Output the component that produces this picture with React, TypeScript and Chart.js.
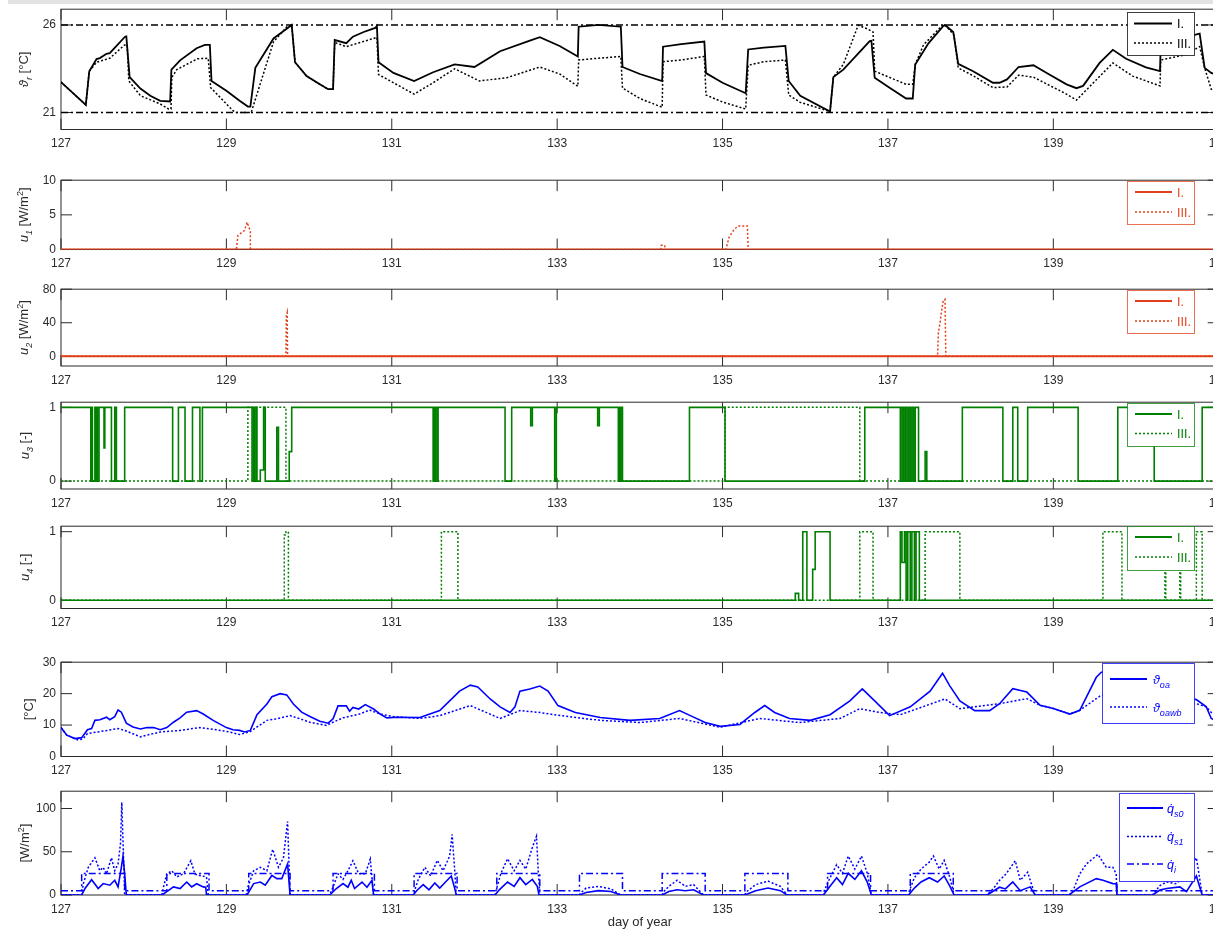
import React, { useEffect, useRef } from 'react';
import { Chart, registerables } from 'chart.js';

Chart.register(...registerables);

type Pt = [number, number];

// ---------- axis ----------
const X_MIN = 127;
const X_MAX = 141;
const dayTicks = [127, 129, 131, 133, 135, 137, 139, 141];

// ---------- panel 1: room temperature ----------
const thetaR_I: Pt[] = [
  [127.0, 22.74], [127.3, 21.43], [127.342, 23.36], [127.43, 24.05], [127.47, 24.11], [127.55, 24.35], [127.59, 24.39], [127.774, 25.33], [127.79, 25.35],
  [127.83, 23.02], [127.96, 22.37], [128.08, 21.96], [128.2, 21.67], [128.32, 21.63], [128.335, 23.45], [128.44, 23.98], [128.64, 24.67], [128.74, 24.86], [128.8, 24.86],
  [128.82, 22.8], [129.0, 22.24], [129.16, 21.67], [129.26, 21.34], [129.29, 21.34], [129.35, 23.55], [129.57, 25.23], [129.77, 25.93], [129.79, 26.0],
  [129.83, 23.87], [129.97, 23.08], [130.13, 22.61], [130.23, 22.33], [130.29, 22.33], [130.31, 25.14], [130.45, 24.96], [130.53, 25.33], [130.66, 25.6], [130.8, 25.83], [130.82, 25.95],
  [130.84, 23.87], [131.02, 23.26], [131.27, 22.8], [131.5, 23.3], [131.76, 23.75], [132.0, 23.6], [132.31, 24.5], [132.67, 25.1], [132.79, 25.3], [133.03, 24.8],
  [133.25, 24.2], [133.26, 25.9], [133.5, 26.0], [133.77, 25.9], [133.79, 23.6], [134.0, 23.2], [134.27, 22.8], [134.28, 24.76], [134.5, 24.9], [134.78, 25.05],
  [134.8, 23.25], [135.0, 22.7], [135.28, 22.1], [135.31, 24.6], [135.5, 24.7], [135.76, 24.8], [135.8, 22.8], [135.94, 21.96], [136.3, 21.06], [136.34, 23.02], [136.46, 23.45], [136.78, 25.08], [136.8, 25.1],
  [136.84, 22.98], [137.02, 22.42], [137.22, 21.8], [137.3, 21.8], [137.33, 23.74], [137.49, 24.95], [137.67, 25.94], [137.69, 26.0], [137.79, 25.6], [137.85, 23.78],
  [138.03, 23.36], [138.27, 22.7], [138.35, 22.7], [138.44, 22.89], [138.58, 23.6], [138.76, 23.7], [138.92, 23.26], [139.16, 22.61], [139.28, 22.39], [139.36, 22.52], [139.56, 23.83], [139.72, 24.58],
  [139.88, 24.07], [140.12, 23.58], [140.29, 23.36], [140.3, 25.0], [140.6, 25.3], [140.77, 25.51], [140.83, 23.55], [140.91, 23.26], [141.0, 23.1],
];
const thetaR_III: Pt[] = [
  [127.0, 22.74], [127.3, 21.43], [127.342, 23.36], [127.43, 23.87], [127.59, 24.1], [127.77, 24.86], [127.8, 24.86], [127.82, 22.8], [127.96, 21.96], [128.2, 21.49], [128.3, 21.2], [128.33, 21.2],
  [128.34, 23.0], [128.4, 23.45], [128.65, 24.07], [128.78, 24.1], [128.81, 22.42], [129.08, 21.1], [129.12, 21.0], [129.3, 21.0], [129.57, 25.04], [129.73, 25.89], [129.79, 26.0],
  [129.83, 23.87], [129.97, 23.08], [130.13, 22.61], [130.23, 22.33], [130.29, 22.33], [130.31, 25.0], [130.45, 24.76], [130.78, 25.23], [130.82, 25.3], [130.84, 23.17], [131.27, 22.05],
  [131.5, 22.7], [131.76, 23.5], [132.06, 22.8], [132.4, 23.0], [132.79, 23.6], [133.03, 23.2], [133.25, 22.5], [133.26, 24.0], [133.5, 24.1], [133.77, 24.2],
  [133.79, 22.4], [134.0, 21.8], [134.27, 21.3], [134.28, 23.9], [134.5, 24.0], [134.78, 24.2], [134.8, 22.0], [135.0, 21.6], [135.28, 21.2], [135.31, 23.7], [135.5, 23.9], [135.76, 24.0], [135.8, 22.0],
  [135.94, 21.58], [136.3, 21.06], [136.34, 23.02], [136.46, 23.74], [136.64, 25.98], [136.74, 25.8], [136.82, 25.6], [136.84, 23.36], [137.22, 22.61], [137.3, 22.61], [137.33, 23.74], [137.43, 24.86],
  [137.65, 25.94], [137.69, 26.0], [137.8, 25.42], [137.85, 23.55], [138.03, 23.1], [138.27, 22.42], [138.44, 22.46], [138.58, 23.13], [138.76, 23.02], [139.16, 22.05], [139.28, 21.71], [139.72, 23.83],
  [139.96, 23.08], [140.29, 22.52], [140.3, 24.0], [140.6, 24.3], [140.77, 24.76], [140.83, 23.55], [140.91, 22.33], [141.0, 22.0],
];
const comfortLow: Pt[] = [[127, 21], [141, 21]];
const comfortHigh: Pt[] = [[127, 26], [141, 26]];

// ---------- panel 2/3: u1, u2 ----------
const u1_I: Pt[] = [[127, 0], [141, 0]];
const u1_III: Pt[] = [
  [127, 0], [129.12, 0], [129.14, 2.04], [129.22, 2.75], [129.25, 3.93], [129.28, 2.98], [129.29, 2.8], [129.29, 0], [134.25, 0], [134.26, 0.6], [134.3, 0.6], [134.31, 0],
  [135.04, 0], [135.08, 1.8], [135.14, 2.9], [135.19, 3.4], [135.3, 3.4], [135.31, 0], [141, 0],
];
const u2_I: Pt[] = [[127, 0], [141, 0]];
const u2_III: Pt[] = [
  [127, 0], [129.72, 0], [129.725, 48], [129.735, 52], [129.74, 0], [137.6, 0], [137.61, 28], [137.63, 40], [137.65, 55], [137.67, 67], [137.69, 68], [137.7, 0], [141, 0],
];

// ---------- panel 4/5: u3, u4 (each value is held until the next point) ----------
const u3_I: Pt[] = [
  [127, 1], [127.36, 0], [127.37, 1], [127.38, 0], [127.41, 1], [127.42, 0], [127.43, 1], [127.44, 0], [127.46, 1], [127.52, 0.45], [127.53, 1], [127.61, 0], [127.65, 1], [127.67, 0],
  [127.77, 1], [128.35, 0], [128.42, 1], [128.5, 0], [128.59, 1], [128.68, 0], [128.71, 1], [129.31, 0], [129.33, 1], [129.34, 0], [129.36, 1], [129.37, 0], [129.41, 0.15], [129.45, 1],
  [129.47, 0], [129.61, 0.73], [129.63, 0], [129.76, 0.4], [129.79, 1], [131.5, 0], [131.51, 1], [131.52, 0], [131.53, 1], [131.55, 0], [131.56, 1], [132.37, 0], [132.45, 1], [132.68, 0.75],
  [132.7, 1], [132.97, 0], [132.99, 1], [133.49, 0.75], [133.51, 1], [133.74, 0], [133.75, 1], [133.76, 0], [133.77, 1], [133.79, 0], [134.6, 1], [135.03, 0], [136.72, 1], [137.15, 0],
  [137.17, 1], [137.19, 0], [137.21, 1], [137.23, 0], [137.25, 1], [137.27, 0], [137.29, 1], [137.31, 0], [137.33, 1], [137.37, 0], [137.45, 0.4], [137.47, 0], [137.9, 1], [138.39, 0],
  [138.51, 1], [138.57, 0], [138.69, 1], [139.3, 0], [139.78, 1], [140.22, 0], [140.8, 1], [141, 1],
];
const u3_III: Pt[] = [[127, 0], [129.26, 1], [129.72, 0], [135.03, 1], [136.66, 0], [141, 0]];
const u4_I: Pt[] = [
  [127, 0], [135.88, 0.1], [135.92, 0], [135.97, 1], [136.02, 0], [136.09, 0.45], [136.12, 1], [136.3, 0], [137.15, 1], [137.17, 0.55], [137.2, 1], [137.22, 0], [137.24, 1], [137.27, 0],
  [137.29, 1], [137.32, 0], [137.34, 1], [137.38, 0], [141, 0],
];
const u4_III: Pt[] = [
  [127, 0], [129.7, 0.95], [129.72, 1], [129.75, 0], [131.6, 1], [131.8, 0], [136.66, 1], [136.82, 0], [137.45, 1], [137.87, 0], [139.6, 1], [139.83, 0], [140.35, 1], [140.36, 0],
  [140.53, 1], [140.54, 0], [140.73, 1], [140.8, 0], [141, 0],
];

// ---------- panel 6: outdoor temperatures ----------
const thetaOA: Pt[] = [
  [127.0, 9.2], [127.07, 6.8], [127.17, 5.7], [127.25, 6.0], [127.32, 8.5], [127.37, 8.9], [127.41, 11.5], [127.47, 11.7], [127.55, 12.5], [127.59, 11.7], [127.65, 12.7], [127.69, 14.8],
  [127.73, 14.1], [127.79, 10.6], [127.87, 9.4], [127.96, 8.75], [128.04, 9.2], [128.12, 9.2], [128.2, 8.5], [128.28, 9.2], [128.36, 10.9], [128.44, 12.3], [128.52, 14.1], [128.64, 14.6],
  [128.72, 13.5], [128.84, 11.5], [129.0, 9.2], [129.08, 8.5], [129.16, 8.3], [129.22, 7.8], [129.29, 8.3], [129.37, 13.3], [129.49, 16.7], [129.55, 19.0], [129.65, 20.0], [129.73, 19.6],
  [129.81, 16.7], [129.91, 14.1], [130.01, 12.7], [130.13, 11.2], [130.23, 10.6], [130.29, 12.0], [130.35, 16.1], [130.45, 16.1], [130.49, 14.4], [130.53, 15.6], [130.6, 15.1], [130.68, 16.5],
  [130.78, 15.1], [130.86, 13.5], [130.94, 12.3], [131.06, 12.5], [131.34, 12.4], [131.58, 14.6], [131.82, 20.8], [131.95, 22.7], [132.04, 22.1], [132.19, 18.3], [132.31, 15.8], [132.43, 14.0],
  [132.49, 15.8], [132.55, 20.8], [132.67, 21.5], [132.79, 22.4], [132.89, 20.8], [133.01, 16.2], [133.22, 14.0], [133.52, 12.4], [133.88, 11.5], [134.24, 12.1], [134.48, 14.6], [134.61, 13.0],
  [134.79, 10.8], [134.97, 9.6], [135.21, 10.2], [135.39, 14.0], [135.51, 16.2], [135.63, 14.0], [135.81, 12.1], [136.06, 11.5], [136.3, 13.3], [136.54, 17.7], [136.69, 21.5], [136.84, 17.7],
  [137.02, 13.0], [137.27, 15.8], [137.51, 20.8], [137.66, 26.5], [137.75, 22.4], [137.87, 17.7], [138.05, 14.6], [138.23, 14.6], [138.35, 16.8], [138.51, 21.6], [138.68, 20.5], [138.84, 16.3],
  [139.0, 15.3], [139.2, 13.5], [139.32, 14.7], [139.52, 25.2], [139.58, 26.8], [139.8, 27.0], [140.17, 22.0], [140.53, 19.0], [140.73, 18.1], [140.85, 15.8], [140.91, 12.1], [141.0, 11.0],
];
const thetaOAWB: Pt[] = [
  [127.0, 9.2], [127.07, 6.8], [127.21, 5.2], [127.27, 5.7], [127.32, 7.3], [127.44, 7.8], [127.56, 8.3], [127.69, 8.9], [127.77, 8.3], [127.96, 6.25], [128.04, 6.8], [128.2, 7.8],
  [128.44, 8.3], [128.68, 9.2], [128.88, 8.5], [129.04, 7.8], [129.16, 7.0], [129.28, 7.8], [129.49, 11.5], [129.61, 12.0], [129.77, 13.0], [129.89, 12.0], [130.01, 10.9], [130.21, 9.9],
  [130.29, 10.9], [130.41, 12.3], [130.61, 13.5], [130.73, 14.8], [130.86, 13.5], [131.02, 12.7], [131.34, 12.1], [131.58, 13.0], [131.95, 16.2], [132.31, 12.1], [132.55, 14.6], [132.79, 14.0],
  [133.04, 13.0], [133.52, 11.5], [134.0, 10.8], [134.48, 12.1], [134.97, 9.3], [135.45, 12.1], [135.93, 10.8], [136.42, 12.1], [136.66, 15.2], [136.9, 14.0], [137.15, 13.3], [137.69, 18.3],
  [137.87, 15.2], [138.35, 16.8], [138.68, 18.4], [138.84, 16.3], [139.0, 15.3], [139.2, 13.5], [139.32, 14.7], [139.52, 18.4], [139.58, 19.5], [139.8, 20.0], [140.17, 18.0], [140.53, 17.0],
  [140.73, 16.8], [140.85, 15.8], [140.91, 14.0], [141.0, 13.0],
];

// ---------- panel 7: heat fluxes ----------
const qs0: Pt[] = [
  [127, 0], [127.25, 0], [127.29, 7.5], [127.37, 17.7], [127.45, 7.5], [127.51, 13.2], [127.59, 11.3], [127.65, 17], [127.69, 9.4], [127.73, 32], [127.75, 45], [127.77, 24.5], [127.79, 0],
  [128.22, 0], [128.28, 3.8], [128.36, 9.4], [128.44, 7.5], [128.52, 15], [128.58, 9.4], [128.64, 13], [128.72, 9.4], [128.75, 9], [128.76, 0],
  [129.25, 0], [129.33, 13.2], [129.41, 15], [129.47, 11.3], [129.55, 22.6], [129.61, 18.9], [129.67, 18.9], [129.74, 35.8], [129.77, 0],
  [130.25, 0], [130.33, 7.5], [130.41, 13.2], [130.47, 9], [130.51, 17], [130.55, 7.5], [130.64, 15], [130.7, 9], [130.76, 17], [130.78, 0],
  [131.26, 0], [131.3, 5], [131.38, 12], [131.45, 6], [131.52, 14], [131.58, 8], [131.65, 15], [131.72, 22], [131.76, 8], [131.78, 0],
  [132.25, 0], [132.3, 6], [132.4, 15], [132.48, 10], [132.55, 20], [132.62, 12], [132.7, 18], [132.76, 10], [132.78, 0],
  [133.27, 0], [133.35, 3], [133.5, 5], [133.65, 4], [133.77, 0],
  [134.27, 0], [134.35, 4], [134.45, 6], [134.55, 5], [134.65, 6], [134.77, 0],
  [135.27, 0], [135.4, 5], [135.55, 8], [135.7, 5], [135.78, 0],
  [136.22, 0], [136.3, 10], [136.38, 20], [136.45, 12], [136.52, 25], [136.6, 18], [136.68, 28], [136.75, 15], [136.8, 0],
  [137.25, 0], [137.32, 8], [137.4, 15], [137.5, 20], [137.6, 15], [137.68, 22], [137.75, 10], [137.8, 0],
  [138.2, 0], [138.35, 9], [138.42, 7], [138.51, 15], [138.6, 5], [138.72, 9.4], [138.78, 0],
  [139.19, 0], [139.32, 9.4], [139.52, 18.9], [139.6, 17], [139.72, 13.2], [139.76, 13], [139.77, 0],
  [140.2, 0], [140.29, 5.7], [140.37, 7.5], [140.53, 9.4], [140.61, 3.8], [140.73, 22], [140.8, 0], [141, 0],
];
const qs1: Pt[] = [
  [127, 0], [127.25, 0], [127.27, 13], [127.33, 32], [127.41, 43], [127.47, 28], [127.51, 32], [127.55, 24.5], [127.61, 43], [127.65, 28], [127.69, 36], [127.72, 60], [127.735, 107],
  [127.75, 62], [127.77, 0],
  [128.22, 0], [128.24, 9.4], [128.28, 24.5], [128.34, 28], [128.4, 20.8], [128.48, 24.5], [128.57, 39.6], [128.62, 24], [128.68, 22.6], [128.76, 20.8], [128.78, 0],
  [129.24, 0], [129.26, 9.4], [129.33, 28], [129.41, 32], [129.49, 28], [129.56, 52.8], [129.63, 32], [129.69, 43], [129.74, 85], [129.77, 0],
  [130.25, 0], [130.29, 9.4], [130.35, 24.5], [130.41, 18], [130.47, 28], [130.53, 39.6], [130.6, 24.5], [130.68, 24.5], [130.74, 41.5], [130.78, 0],
  [131.26, 0], [131.27, 3], [131.32, 18], [131.4, 32], [131.47, 22], [131.55, 40], [131.62, 28], [131.7, 45], [131.73, 70], [131.76, 30], [131.78, 0],
  [132.25, 0], [132.26, 5], [132.32, 25], [132.4, 42], [132.48, 28], [132.55, 40], [132.62, 30], [132.7, 55], [132.75, 68], [132.77, 30], [132.79, 0],
  [133.27, 0], [133.28, 2], [133.35, 8], [133.5, 10], [133.65, 7], [133.77, 0],
  [134.27, 0], [134.28, 3], [134.35, 10], [134.45, 17], [134.55, 10], [134.65, 12], [134.77, 0],
  [135.27, 0], [135.28, 3], [135.4, 12], [135.55, 16], [135.7, 10], [135.78, 0],
  [136.22, 0], [136.23, 5], [136.3, 20], [136.38, 35], [136.45, 25], [136.52, 45], [136.6, 30], [136.68, 45], [136.75, 25], [136.8, 0],
  [137.25, 0], [137.26, 5], [137.32, 20], [137.4, 30], [137.5, 38], [137.55, 45], [137.62, 30], [137.68, 40], [137.75, 20], [137.8, 0],
  [138.2, 0], [138.28, 8], [138.35, 17], [138.43, 24.5], [138.54, 39.6], [138.6, 17], [138.69, 26.4], [138.74, 11.3], [138.78, 0],
  [139.19, 0], [139.23, 3], [139.32, 24.5], [139.4, 35.8], [139.54, 47], [139.64, 32], [139.72, 32], [139.76, 24.5], [139.77, 0],
  [140.2, 0], [140.29, 11], [140.37, 15], [140.49, 13], [140.73, 43], [140.76, 25], [140.8, 0], [141, 0],
];
const qi: Pt[] = [
  [127, 5], [127.25, 25], [127.77, 5], [128.28, 25], [128.79, 5], [129.27, 25], [129.77, 5], [130.29, 25], [130.79, 5], [131.27, 25], [131.79, 5], [132.27, 25], [132.79, 5],
  [133.27, 25], [133.79, 5], [134.27, 25], [134.79, 5], [135.27, 25], [135.79, 5], [136.27, 25], [136.79, 5], [137.27, 25], [137.79, 5], [141, 5],
];

// ---------- styling ----------
const FONT = '"Liberation Sans", Arial, Helvetica, sans-serif';
const CANVAS_W = 1240;
const PLOT_LEFT = 61;
const PLOT_RIGHT = 1218.7;
const TICK_LEN = 11;
const AXIS_COLOR = '#2b2b2b';
const TEXT_COLOR = '#2b2b2b';
const BLACK = '#000000';
const RED = '#e2401b';
const GREEN = '#008000';
const BLUE = '#0000ff';
const SOLID: number[] = [];
const DOT = [2, 2];
const DASHDOT = [7, 3, 2, 3];

interface Part { t: string; sub?: boolean; sup?: boolean; it?: boolean }
interface Series { data: Pt[]; dash: number[]; width: number; stepped?: boolean; color?: string }
interface LegendRow { parts: Part[]; dash: number[] }
interface LegendCfg { x0: number; x1: number; y0: number; y1: number; rows: number[]; lx0: number; lx1: number; tx: number; items: LegendRow[] }
interface PanelCfg {
  top: number; bottom: number; ymin: number; ymax: number; yticks: number[]; color: string;
  series: Series[]; ylabel: Part[]; ylabelX: number; legend: LegendCfg; last?: boolean;
}

const partsI: Part[] = [{ t: 'I.' }];
const partsIII: Part[] = [{ t: 'III.' }];

const panels: PanelCfg[] = [
  {
    top: 7.5, bottom: 129.5, ymin: 20.03, ymax: 26.9, yticks: [21, 26], color: BLACK,
    series: [
      { data: comfortLow, dash: DASHDOT, width: 1.5 },
      { data: comfortHigh, dash: DASHDOT, width: 1.5 },
      { data: thetaR_III, dash: DOT, width: 1.5 },
      { data: thetaR_I, dash: SOLID, width: 1.8 },
    ],
    ylabel: [{ t: 'ϑ', it: true }, { t: 'r', sub: true, it: true }, { t: ' [°C]' }], ylabelX: 28,
    legend: { x0: 1127.5, x1: 1194.5, y0: 12.5, y1: 55.5, rows: [23.5, 43], lx0: 1134, lx1: 1172, tx: 1177, items: [{ parts: partsI, dash: SOLID }, { parts: partsIII, dash: DOT }] },
  },
  {
    top: 178.5, bottom: 249.5, ymin: 0, ymax: 10, yticks: [0, 5, 10], color: RED,
    series: [
      { data: u1_III, dash: DOT, width: 1.5 },
      { data: u1_I, dash: SOLID, width: 2 },
    ],
    ylabel: [{ t: 'u', it: true }, { t: '1', sub: true, it: true }, { t: ' [W/m' }, { t: '2', sup: true }, { t: ']' }], ylabelX: 28,
    legend: { x0: 1127.5, x1: 1194.5, y0: 181.5, y1: 224.5, rows: [192, 212], lx0: 1135, lx1: 1172, tx: 1177, items: [{ parts: partsI, dash: SOLID }, { parts: partsIII, dash: DOT }] },
  },
  {
    top: 287.5, bottom: 366, ymin: -11.6, ymax: 80, yticks: [0, 40, 80], color: RED,
    series: [
      { data: u2_III, dash: DOT, width: 1.5 },
      { data: u2_I, dash: SOLID, width: 2 },
    ],
    ylabel: [{ t: 'u', it: true }, { t: '2', sub: true, it: true }, { t: ' [W/m' }, { t: '2', sup: true }, { t: ']' }], ylabelX: 28,
    legend: { x0: 1127.5, x1: 1194.5, y0: 290.5, y1: 333.5, rows: [301, 321], lx0: 1135, lx1: 1172, tx: 1177, items: [{ parts: partsI, dash: SOLID }, { parts: partsIII, dash: DOT }] },
  },
  {
    top: 400.5, bottom: 489, ymin: -0.107, ymax: 1.07, yticks: [0, 1], color: GREEN,
    series: [
      { data: u3_III, dash: DOT, width: 1.5, stepped: true },
      { data: u3_I, dash: SOLID, width: 1.6, stepped: true },
    ],
    ylabel: [{ t: 'u', it: true }, { t: '3', sub: true, it: true }, { t: ' [-]' }], ylabelX: 29,
    legend: { x0: 1127.5, x1: 1194.5, y0: 403.5, y1: 446.5, rows: [414, 433.5], lx0: 1135, lx1: 1172, tx: 1177, items: [{ parts: partsI, dash: SOLID }, { parts: partsIII, dash: DOT }] },
  },
  {
    top: 524.5, bottom: 608.5, ymin: -0.12, ymax: 1.08, yticks: [0, 1], color: GREEN,
    series: [
      { data: u4_III, dash: DOT, width: 1.5, stepped: true },
      { data: u4_I, dash: SOLID, width: 1.6, stepped: true },
    ],
    ylabel: [{ t: 'u', it: true }, { t: '4', sub: true, it: true }, { t: ' [-]' }], ylabelX: 29,
    legend: { x0: 1127.5, x1: 1194.5, y0: 526.5, y1: 570.5, rows: [537, 557], lx0: 1135, lx1: 1172, tx: 1177, items: [{ parts: partsI, dash: SOLID }, { parts: partsIII, dash: DOT }] },
  },
  {
    top: 660.5, bottom: 756.5, ymin: 0, ymax: 30, yticks: [0, 10, 20, 30], color: BLUE,
    series: [
      { data: thetaOAWB, dash: DOT, width: 1.5 },
      { data: thetaOA, dash: SOLID, width: 1.6 },
    ],
    ylabel: [{ t: '[°C]' }], ylabelX: 33,
    legend: {
      x0: 1102.5, x1: 1194.5, y0: 663.5, y1: 723.5, rows: [679, 707], lx0: 1110, lx1: 1147, tx: 1153,
      items: [
        { parts: [{ t: 'ϑ', it: true }, { t: 'oa', sub: true, it: true }], dash: SOLID },
        { parts: [{ t: 'ϑ', it: true }, { t: 'oawb', sub: true, it: true }], dash: DOT },
      ],
    },
  },
  {
    top: 789.5, bottom: 895, ymin: 0, ymax: 120, yticks: [0, 50, 100], color: BLUE, last: true,
    series: [
      { data: qi, dash: DASHDOT, width: 1.5, stepped: true },
      { data: qs1, dash: DOT, width: 1.5 },
      { data: qs0, dash: SOLID, width: 1.6 },
    ],
    ylabel: [{ t: '[W/m' }, { t: '2', sup: true }, { t: ']' }], ylabelX: 29,
    legend: {
      x0: 1119.5, x1: 1194.5, y0: 793.5, y1: 881.5, rows: [808, 836.5, 864], lx0: 1127, lx1: 1163, tx: 1167,
      items: [
        { parts: [{ t: 'q̇', it: true }, { t: 's0', sub: true, it: true }], dash: SOLID },
        { parts: [{ t: 'q̇', it: true }, { t: 's1', sub: true, it: true }], dash: DOT },
        { parts: [{ t: 'q̇', it: true }, { t: 'i', sub: true, it: true }], dash: DASHDOT },
      ],
    },
  },
];

function partFont(p: Part, size: number) {
  const fs = p.sub || p.sup ? Math.round(size * 0.72) : size;
  return `${p.it ? 'italic ' : ''}${fs}px ${FONT}`;
}
function measureParts(ctx: CanvasRenderingContext2D, parts: Part[], size: number) {
  let w = 0;
  for (const p of parts) {
    ctx.font = partFont(p, size);
    w += ctx.measureText(p.t).width;
  }
  return w;
}
function drawParts(ctx: CanvasRenderingContext2D, parts: Part[], x: number, y: number, size: number) {
  let cx = x;
  ctx.textAlign = 'left';
  ctx.textBaseline = 'alphabetic';
  for (const p of parts) {
    ctx.font = partFont(p, size);
    const dy = p.sub ? size * 0.32 : p.sup ? -size * 0.42 : 0;
    ctx.fillText(p.t, cx, y + dy);
    cx += ctx.measureText(p.t).width;
  }
}

function Panel({ cfg }: { cfg: PanelCfg }) {
  const ref = useRef<HTMLCanvasElement | null>(null);
  const padTopBase = 10;
  const canvasTop = Math.floor(cfg.top) - padTopBase;
  const padTop = cfg.top - canvasTop;
  const plotH = cfg.bottom - cfg.top;
  const axisH = cfg.last ? 38 : 30;
  const H = Math.ceil(padTop + plotH + axisH);
  const padBottom = H - (padTop + plotH + axisH);

  useEffect(() => {
    const canvas = ref.current;
    if (!canvas) return;
    const tickFont = { family: FONT, size: 12 };

    const framePlugin = {
      id: 'frame' + canvasTop,
      beforeDatasetsDraw(chart: any) {
        const { ctx, chartArea, scales } = chart;
        const { left, right, top, bottom } = chartArea;
        ctx.save();
        ctx.strokeStyle = AXIS_COLOR;
        ctx.lineWidth = 1;
        ctx.setLineDash([]);
        ctx.strokeRect(left, top, right - left, bottom - top);
        ctx.beginPath();
        for (const v of dayTicks) {
          const px = scales.x.getPixelForValue(v);
          ctx.moveTo(px, bottom); ctx.lineTo(px, bottom - TICK_LEN);
          ctx.moveTo(px, top); ctx.lineTo(px, top + TICK_LEN);
        }
        for (const v of cfg.yticks) {
          const py = scales.y.getPixelForValue(v);
          ctx.moveTo(left, py); ctx.lineTo(left + TICK_LEN, py);
          ctx.moveTo(right, py); ctx.lineTo(right - TICK_LEN, py);
        }
        ctx.stroke();
        ctx.restore();
      },
      afterDraw(chart: any) {
        const { ctx, chartArea } = chart;
        const oy = canvasTop;
        // y-axis label
        ctx.save();
        ctx.fillStyle = TEXT_COLOR;
        const size = 13;
        const w = measureParts(ctx, cfg.ylabel, size);
        const cy = (chartArea.top + chartArea.bottom) / 2;
        ctx.translate(cfg.ylabelX, cy);
        ctx.rotate(-Math.PI / 2);
        drawParts(ctx, cfg.ylabel, -w / 2, 0, size);
        ctx.restore();
        // legend
        const L = cfg.legend;
        ctx.save();
        ctx.fillStyle = '#ffffff';
        ctx.fillRect(L.x0, L.y0 - oy, L.x1 - L.x0, L.y1 - L.y0);
        ctx.strokeStyle = cfg.color;
        ctx.globalAlpha = 0.75;
        ctx.lineWidth = 1;
        ctx.setLineDash([]);
        ctx.strokeRect(L.x0, L.y0 - oy, L.x1 - L.x0, L.y1 - L.y0);
        ctx.globalAlpha = 1;
        L.items.forEach((it, i) => {
          const ry = L.rows[i] - oy;
          ctx.beginPath();
          ctx.strokeStyle = cfg.color;
          ctx.lineWidth = it.dash.length ? 1.5 : 1.8;
          ctx.setLineDash(it.dash);
          ctx.moveTo(L.lx0, ry);
          ctx.lineTo(L.lx1, ry);
          ctx.stroke();
          ctx.setLineDash([]);
          ctx.fillStyle = cfg.color;
          drawParts(ctx, it.parts, L.tx, ry + 4.5, 12.5);
        });
        ctx.restore();
      },
    };

    const chart = new Chart(canvas, {
      type: 'line',
      data: {
        datasets: cfg.series.map((s) => ({
          data: s.data.map(([x, y]) => ({ x, y })),
          borderColor: s.color ?? cfg.color,
          backgroundColor: s.color ?? cfg.color,
          borderWidth: s.width,
          borderDash: s.dash,
          pointRadius: 0,
          pointHoverRadius: 0,
          tension: 0,
          fill: false,
          stepped: s.stepped ? 'before' : false,
          borderCapStyle: 'butt',
          borderJoinStyle: 'miter',
        })),
      },
      options: {
        animation: false,
        responsive: false,
        maintainAspectRatio: false,
        events: [],
        layout: { padding: { left: 0, right: CANVAS_W - PLOT_RIGHT, top: padTop, bottom: padBottom } },
        plugins: { legend: { display: false }, tooltip: { enabled: false }, title: { display: false } },
        scales: {
          x: {
            type: 'linear',
            min: X_MIN,
            max: X_MAX,
            afterBuildTicks: (s: any) => { s.ticks = dayTicks.map((v) => ({ value: v })); },
            afterFit: (s: any) => { s.height = axisH; },
            grid: { display: false, drawTicks: false },
            border: { display: false },
            ticks: { padding: 7, color: TEXT_COLOR, font: tickFont, maxRotation: 0, autoSkip: false },
            title: cfg.last
              ? { display: true, text: 'day of year', color: TEXT_COLOR, font: { family: FONT, size: 13 }, padding: { top: 0, bottom: 2.5 } }
              : { display: false },
          },
          y: {
            type: 'linear',
            min: cfg.ymin,
            max: cfg.ymax,
            afterBuildTicks: (s: any) => { s.ticks = cfg.yticks.map((v) => ({ value: v })); },
            afterFit: (s: any) => { s.width = PLOT_LEFT; },
            grid: { display: false, drawTicks: false },
            border: { display: false },
            ticks: { padding: 5, color: TEXT_COLOR, font: tickFont },
          },
        },
      } as any,
      plugins: [framePlugin],
    });
    return () => chart.destroy();
  }, []);

  return (
    <canvas
      ref={ref}
      width={CANVAS_W}
      height={H}
      style={{ position: 'absolute', left: 0, top: canvasTop, width: CANVAS_W, height: H, display: 'block' }}
    />
  );
}

export default function App() {
  return (
    <div style={{ position: 'fixed', left: 0, top: 0, width: 1213, height: 932, overflow: 'hidden', background: '#ffffff' }}>
      <div style={{ position: 'absolute', left: 8, top: 0, width: 1205, height: 4, background: '#e3e3e3' }} />
      {panels.map((p, i) => (
        <Panel key={i} cfg={p} />
      ))}
    </div>
  );
}
